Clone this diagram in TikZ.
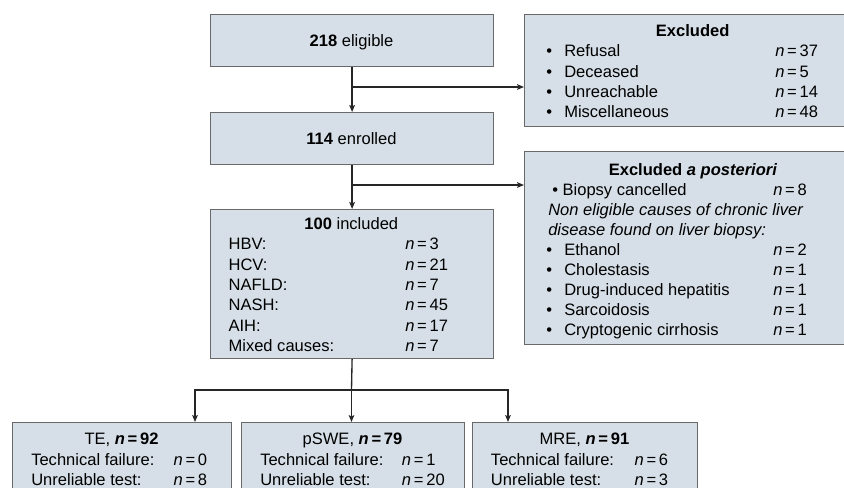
\documentclass[tikz,border=0pt]{standalone}
\usepackage{fontspec}
\setmainfont{Liberation Sans}
\usetikzlibrary{arrows.meta}
\definecolor{boxfill}{RGB}{214,223,231}
\definecolor{boxline}{RGB}{105,105,105}
\newcommand{\nval}[1]{\textit{n}\,=\,#1}
\def\px{0.75pt}
\begin{document}
\begin{tikzpicture}[x=0.75pt,y=-0.75pt,
  box/.style={draw=boxline,fill=boxfill,line width=0.9pt,anchor=north west,inner sep=0pt,rectangle},
  txt/.style={inner sep=0pt,anchor=base west,font=\fontsize{12.4}{15}\selectfont},
  ctxt/.style={txt,anchor=base},
  conn/.style={line width=1pt,black!85},
  arr/.style={conn,-{Stealth[length=5.2pt,width=4.2pt,inset=1pt]}}]
\useasboundingbox (0,0) rectangle (844,487);
\clip (0,0) rectangle (844,487);
% boxes
\node[box,minimum width=283*\px,minimum height=52*\px] (elig) at (210,14) {};
\node[box,minimum width=283*\px,minimum height=52*\px] (enr) at (210,112) {};
\node[box,minimum width=340*\px,minimum height=112*\px] (excl) at (524,14) {};
\node[box,minimum width=340*\px,minimum height=193*\px] (post) at (524,151) {};
\node[box,minimum width=283*\px,minimum height=149*\px] (incl) at (210,209) {};
\node[box,minimum width=219*\px,minimum height=100*\px] (te) at (12,422) {};
\node[box,minimum width=223*\px,minimum height=100*\px] (pswe) at (241,422) {};
\node[box,minimum width=225*\px,minimum height=100*\px] (mre) at (472,422) {};
% connectors
\coordinate (b1) at (351.5,87);
\coordinate (b2) at (351.5,185);
\coordinate (b3) at (351.5,390);
\coordinate (tl) at (195,390);
\coordinate (tr) at (508,390);
\draw[arr] (elig.south) -- (enr.north);
\draw[arr] (b1) -- (b1 -| excl.west);
\draw[arr] (enr.south) -- (incl.north);
\draw[arr] (b2) -- (b2 -| post.west);
\draw[conn] (incl.south) -- (b3);
\draw[arr] (b3) -- (b3 |- pswe.north);
\draw[arr] (b3) -- (tl) -- (tl |- te.north);
\draw[arr] (b3) -- (tr) -- (tr |- mre.north);
% eligible / enrolled
\node[ctxt] (eligT) at (351.5,46.5) {\textbf{218} eligible};
\node[ctxt] (enrT) at (351.5,144.3) {\textbf{114} enrolled};
% excluded
\node[ctxt] (exT) at (692.7,36.5) {\textbf{Excluded}};
\node[txt] (exB1) at (546,56.8) {•};
\node[txt] (exL1) at (564,56.8) {Refusal};
\node[txt] (exN1) at (775,56.8) {\nval{37}};
\node[txt] (exB2) at (546,77.1) {•};
\node[txt] (exL2) at (564,77.1) {Deceased};
\node[txt] (exN2) at (775,77.1) {\nval{5}};
\node[txt] (exB3) at (546,97.4) {•};
\node[txt] (exL3) at (564,97.4) {Unreachable};
\node[txt] (exN3) at (775,97.4) {\nval{14}};
\node[txt] (exB4) at (546,117.7) {•};
\node[txt] (exL4) at (564,117.7) {Miscellaneous};
\node[txt] (exN4) at (775,117.7) {\nval{48}};
% excluded a posteriori
\node[ctxt] (poT) at (693,175) {\textbf{Excluded \textit{a posteriori}}};
\node[txt] (poL1) at (552,195) {• Biopsy cancelled};
\node[txt] (poN1) at (773,195) {\nval{8}};
\node[txt] (poI1) at (548,215) {\textit{Non eligible causes of chronic liver}};
\node[txt] (poI2) at (548,235) {\textit{disease found on liver biopsy:}};
\node[txt] (poB3) at (546,255) {•};
\node[txt] (poL3) at (564,255) {Ethanol};
\node[txt] (poN3) at (773,255) {\nval{2}};
\node[txt] (poB4) at (546,275) {•};
\node[txt] (poL4) at (564,275) {Cholestasis};
\node[txt] (poN4) at (773,275) {\nval{1}};
\node[txt] (poB5) at (546,295) {•};
\node[txt] (poL5) at (564,295) {Drug-induced hepatitis};
\node[txt] (poN5) at (773,295) {\nval{1}};
\node[txt] (poB6) at (546,315) {•};
\node[txt] (poL6) at (564,315) {Sarcoidosis};
\node[txt] (poN6) at (773,315) {\nval{1}};
\node[txt] (poB7) at (546,335) {•};
\node[txt] (poL7) at (564,335) {Cryptogenic cirrhosis};
\node[txt] (poN7) at (773,335) {\nval{1}};
% included
\node[ctxt] (inT) at (351.3,229.5) {\textbf{100} included};
\node[txt] (inL1) at (228.3,249.8) {HBV:};
\node[txt] (inN1) at (405,249.8) {\nval{3}};
\node[txt] (inL2) at (228.3,270.1) {HCV:};
\node[txt] (inN2) at (405,270.1) {\nval{21}};
\node[txt] (inL3) at (228.3,290.4) {NAFLD:};
\node[txt] (inN3) at (405,290.4) {\nval{7}};
\node[txt] (inL4) at (228.3,310.7) {NASH:};
\node[txt] (inN4) at (405,310.7) {\nval{45}};
\node[txt] (inL5) at (228.3,331) {AIH:};
\node[txt] (inN5) at (405,331) {\nval{17}};
\node[txt] (inL6) at (228.3,351.3) {Mixed causes:};
\node[txt] (inN6) at (405,351.3) {\nval{7}};
% TE
\node[ctxt] (teT) at (121.5,444.3) {TE, \textbf{\nval{92}}};
\node[txt] (teL1) at (31,465) {Technical failure:};
\node[txt] (teN1) at (173.3,465) {\nval{0}};
\node[txt] (teL2) at (31,485) {Unreliable test:};
\node[txt] (teN2) at (173.3,485) {\nval{8}};
% pSWE
\node[ctxt] (psT) at (352.5,444.3) {pSWE, \textbf{\nval{79}}};
\node[txt] (psL1) at (260,465) {Technical failure:};
\node[txt] (psN1) at (401.7,465) {\nval{1}};
\node[txt] (psL2) at (260,485) {Unreliable test:};
\node[txt] (psN2) at (401.7,485) {\nval{20}};
% MRE
\node[ctxt] (mrT) at (584.5,444.3) {MRE, \textbf{\nval{91}}};
\node[txt] (mrL1) at (490.7,465) {Technical failure:};
\node[txt] (mrN1) at (634.3,465) {\nval{6}};
\node[txt] (mrL2) at (490.7,485) {Unreliable test:};
\node[txt] (mrN2) at (634.3,485) {\nval{3}};
\end{tikzpicture}
\end{document}
